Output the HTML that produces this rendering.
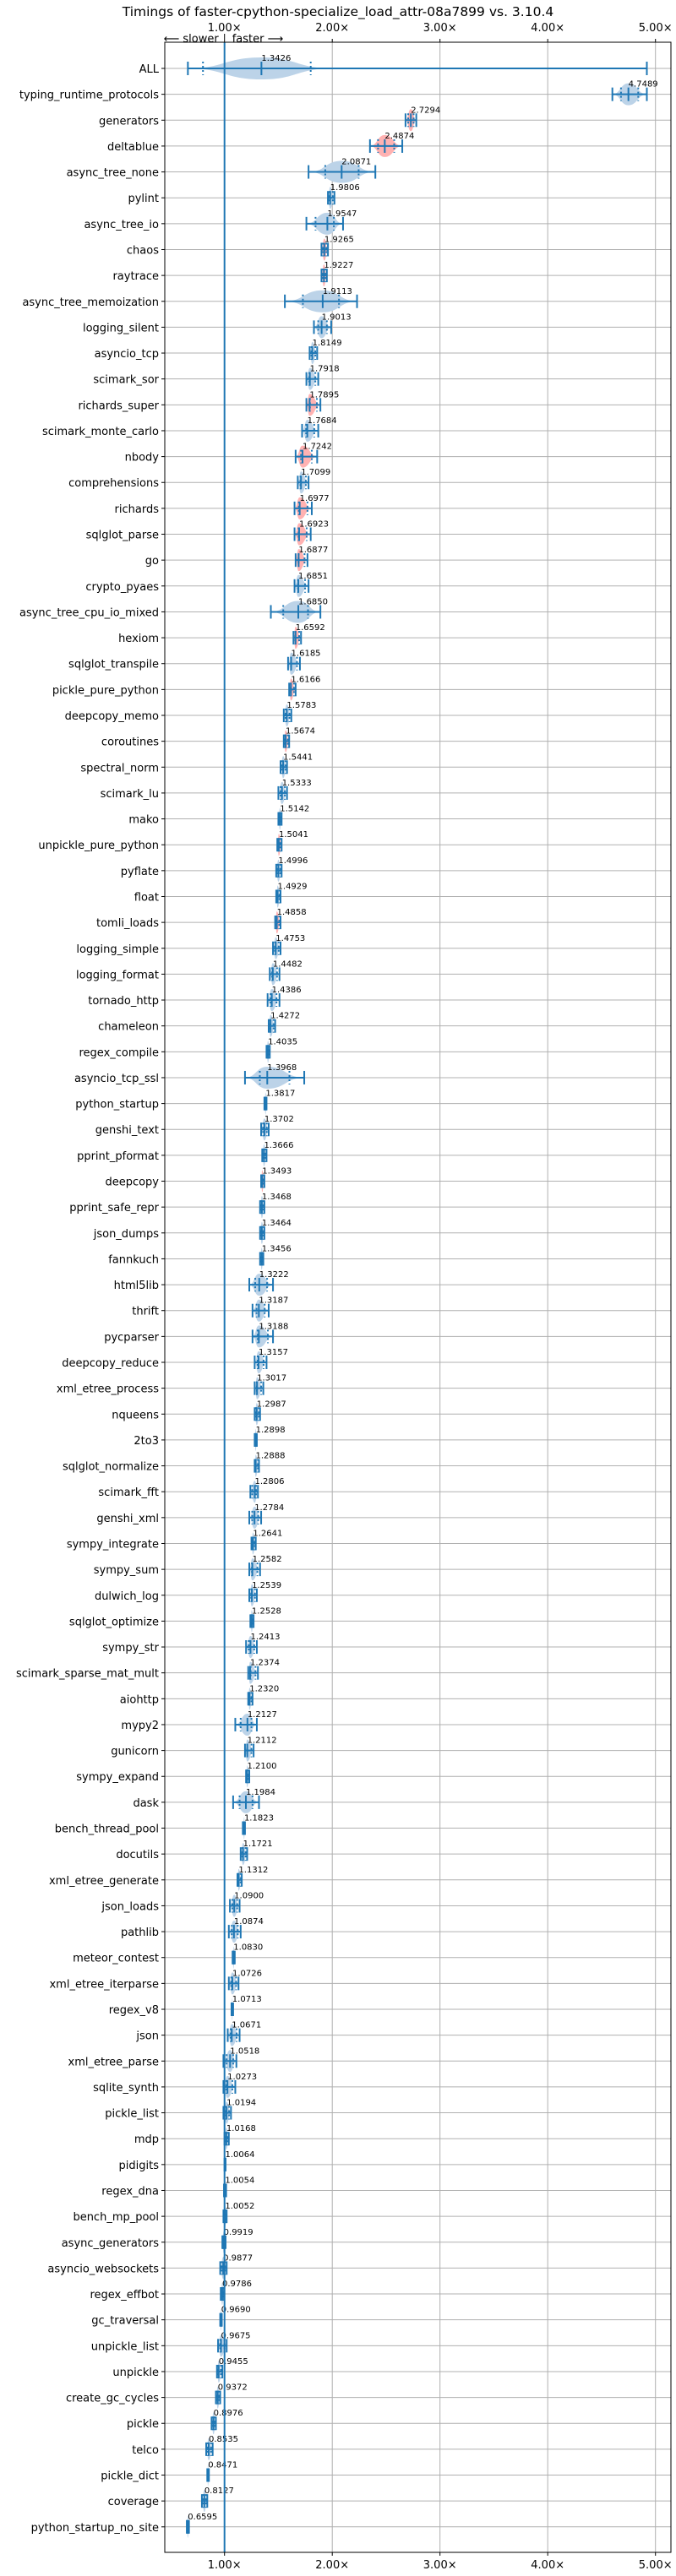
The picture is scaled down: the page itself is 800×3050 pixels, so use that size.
<!DOCTYPE html>
<html><head><meta charset="utf-8"><style>
html,body{margin:0;padding:0;background:#fff;}
svg{display:block;font-family:"DejaVu Sans","Liberation Sans",sans-serif;}
</style></head><body>
<svg id="chart" width="800" height="3050" xmlns="http://www.w3.org/2000/svg">
<text x="400" y="19" text-anchor="middle" font-size="15.5">Timings of faster-cpython-specialize_load_attr-08a7899 vs. 3.10.4</text>
<g id="plot"></g>
</svg>
<script>
const names = ["ALL","typing_runtime_protocols","generators","deltablue","async_tree_none","pylint","async_tree_io","chaos","raytrace","async_tree_memoization","logging_silent","asyncio_tcp","scimark_sor","richards_super","scimark_monte_carlo","nbody","comprehensions","richards","sqlglot_parse","go","crypto_pyaes","async_tree_cpu_io_mixed","hexiom","sqlglot_transpile","pickle_pure_python","deepcopy_memo","coroutines","spectral_norm","scimark_lu","mako","unpickle_pure_python","pyflate","float","tomli_loads","logging_simple","logging_format","tornado_http","chameleon","regex_compile","asyncio_tcp_ssl","python_startup","genshi_text","pprint_pformat","deepcopy","pprint_safe_repr","json_dumps","fannkuch","html5lib","thrift","pycparser","deepcopy_reduce","xml_etree_process","nqueens","2to3","sqlglot_normalize","scimark_fft","genshi_xml","sympy_integrate","sympy_sum","dulwich_log","sqlglot_optimize","sympy_str","scimark_sparse_mat_mult","aiohttp","mypy2","gunicorn","sympy_expand","dask","bench_thread_pool","docutils","xml_etree_generate","json_loads","pathlib","meteor_contest","xml_etree_iterparse","regex_v8","json","xml_etree_parse","sqlite_synth","pickle_list","mdp","pidigits","regex_dna","bench_mp_pool","async_generators","asyncio_websockets","regex_effbot","gc_traversal","unpickle_list","unpickle","create_gc_cycles","pickle","telco","pickle_dict","coverage","python_startup_no_site"];
const medians = [1.3426,4.7489,2.7294,2.4874,2.0871,1.9806,1.9547,1.9265,1.9227,1.9113,1.9013,1.8149,1.7918,1.7895,1.7684,1.7242,1.7099,1.6977,1.6923,1.6877,1.6851,1.6850,1.6592,1.6185,1.6166,1.5783,1.5674,1.5441,1.5333,1.5142,1.5041,1.4996,1.4929,1.4858,1.4753,1.4482,1.4386,1.4272,1.4035,1.3968,1.3817,1.3702,1.3666,1.3493,1.3468,1.3464,1.3456,1.3222,1.3187,1.3188,1.3157,1.3017,1.2987,1.2898,1.2888,1.2806,1.2784,1.2641,1.2582,1.2539,1.2528,1.2413,1.2374,1.2320,1.2127,1.2112,1.2100,1.1984,1.1823,1.1721,1.1312,1.0900,1.0874,1.0830,1.0726,1.0713,1.0671,1.0518,1.0273,1.0194,1.0168,1.0064,1.0054,1.0052,0.9919,0.9877,0.9786,0.9690,0.9675,0.9455,0.9372,0.8976,0.8535,0.8471,0.8127,0.6595];
const lows = [0.66,4.6,2.68,2.35,1.78,1.96,1.76,1.9,1.9,1.56,1.83,1.79,1.76,1.76,1.72,1.66,1.68,1.65,1.65,1.66,1.65,1.43,1.64,1.59,1.6,1.55,1.55,1.52,1.5,1.5,1.49,1.48,1.48,1.47,1.45,1.42,1.4,1.41,1.39,1.19,1.37,1.34,1.35,1.34,1.33,1.33,1.33,1.23,1.26,1.26,1.28,1.28,1.28,1.28,1.28,1.24,1.23,1.25,1.23,1.23,1.24,1.2,1.22,1.22,1.1,1.19,1.2,1.08,1.17,1.15,1.12,1.05,1.04,1.075,1.04,1.065,1.03,0.99,0.99,0.99,1.0,1.0,0.995,0.99,0.98,0.96,0.965,0.96,0.94,0.93,0.92,0.88,0.83,0.84,0.79,0.65];
const highs = [4.92,4.92,2.78,2.65,2.4,2.02,2.1,1.96,1.95,2.23,1.99,1.86,1.87,1.89,1.87,1.86,1.78,1.81,1.8,1.77,1.78,1.89,1.71,1.7,1.66,1.62,1.6,1.58,1.58,1.53,1.53,1.53,1.52,1.52,1.52,1.51,1.51,1.47,1.42,1.74,1.39,1.41,1.39,1.37,1.37,1.37,1.36,1.45,1.41,1.45,1.39,1.36,1.33,1.3,1.32,1.31,1.34,1.29,1.33,1.3,1.27,1.3,1.31,1.26,1.3,1.27,1.23,1.32,1.19,1.21,1.16,1.14,1.15,1.095,1.13,1.08,1.14,1.11,1.1,1.06,1.04,1.01,1.015,1.02,1.01,1.02,0.995,0.975,1.02,0.98,0.96,0.92,0.89,0.855,0.84,0.67];
const slower = ["generators","deltablue","chaos","raytrace","richards_super","nbody","richards","sqlglot_parse","go","hexiom","pickle_pure_python","coroutines","unpickle_pure_python","tomli_loads","deepcopy"];
const tickValues = [1,2,3,4,5];
const tickLabels = ["1.00×","2.00×","3.00×","4.00×","5.00×"];

const L=195, R=794, T=50, B=3022, X0=265.7, UNIT=127.5, Y0=81, DY=30.64;
const xs = v => X0 + (v-1)*UNIT;
const ys = i => Y0 + i*DY;
const NS="http://www.w3.org/2000/svg";
const g=document.getElementById('plot');
function mk(tag, attrs, parent){const e=document.createElementNS(NS,tag);for(const k in attrs)e.setAttribute(k,attrs[k]);(parent||g).appendChild(e);return e;}

// axes background/frame
const frame=mk('rect',{x:L,y:T,width:R-L,height:B-T,fill:'#fff',stroke:'none'});



// vertical grid + ticks
tickValues.forEach((v,k)=>{
  const x=xs(v);
  const gl=mk('line',{x1:x,x2:x,y1:T,y2:B,stroke:'#b0b0b0','stroke-width':1});
  
  
  mk('line',{x1:x,x2:x,y1:T-4,y2:T,stroke:'#000','stroke-width':1});
  mk('line',{x1:x,x2:x,y1:B,y2:B+4,stroke:'#000','stroke-width':1});
  const tt=mk('text',{x:x,y:37,'text-anchor':'middle','font-size':13});
  tt.textContent=tickLabels[k];
  
  
  const tb=mk('text',{x:x,y:B+19,'text-anchor':'middle','font-size':13});
  tb.textContent=tickLabels[k];
  
  
});

// horizontal grid + y labels
names.forEach((n,i)=>{
  const y=ys(i);
  const gl=mk('line',{x1:L,x2:R,y1:y,y2:y,stroke:'#b0b0b0','stroke-width':1});
  
  
  mk('line',{x1:L-4,x2:L,y1:y,y2:y,stroke:'#000','stroke-width':1});
  const t=mk('text',{x:L-7,y:y+5,'text-anchor':'end','font-size':13});
  t.textContent=n;
  
  
});

// violins
const H=13;
names.forEach((n,i)=>{
  const y=ys(i), m=medians[i], lo=lows[i], hi=highs[i];
  const bodyHi = (n==="ALL") ? 2.0 : hi;
  const a=xs(lo), c=xs(bodyHi), mx=Math.min(Math.max(xs(m),a+0.5),c-0.5);
  const d1=(mx-a)/2, d2=(c-mx)/2;
  const d=`M${a},${y} C${a+d1},${y} ${mx-d1},${y-H} ${mx},${y-H} C${mx+d2},${y-H} ${c-d2},${y} ${c},${y} C${c-d2},${y} ${mx+d2},${y+H} ${mx},${y+H} C${mx-d1},${y+H} ${a+d1},${y} ${a},${y} Z`;
  const red = slower.includes(n);
  const body=mk('path',{d:d,fill:red?'#ffb2b2':'#bcd3e8'});
  
  
  const col='#1f77b4';
  const bar=mk('line',{x1:xs(lo),x2:xs(hi),y1:y,y2:y,stroke:col,'stroke-width':2});
  
  
  [lo,hi].forEach(v=>{mk('line',{x1:xs(v),x2:xs(v),y1:y-8,y2:y+8,stroke:col,'stroke-width':2});});
  const q1 = (n==="ALL")?0.8:lo+(hi-lo)*0.25, q3=(n==="ALL")?1.8:hi-(hi-lo)*0.25;
  [q1,q3].forEach(v=>{mk('line',{x1:xs(v),x2:xs(v),y1:y-8,y2:y+8,stroke:col,'stroke-width':2,'stroke-dasharray':'2,3'});});
  const med=mk('line',{x1:xs(m),x2:xs(m),y1:y-8,y2:y+8,stroke:col,'stroke-width':2});
  
  
  const vl=mk('text',{x:xs(m),y:y-9,'font-size':10,fill:'#000'});
  vl.textContent=m.toFixed(4);
  
  
});

// 1.0 reference line
const ref=mk('line',{x1:xs(1),x2:xs(1),y1:T,y2:B,stroke:'#1f77b4','stroke-width':2});


mk('line',{x1:xs(1),x2:xs(1),y1:40,y2:46,stroke:'#000','stroke-width':1});
const sl=mk('text',{x:xs(1)-7,y:50,'text-anchor':'end','font-size':13});
sl.textContent='⟵ slower';


const fs=mk('text',{x:xs(1)+9,y:50,'font-size':13});
fs.textContent='faster ⟶';



// frame border
const border=mk('rect',{x:L,y:T,width:R-L,height:B-T,fill:'none',stroke:'#000','stroke-width':1});


</script>
</body></html>
